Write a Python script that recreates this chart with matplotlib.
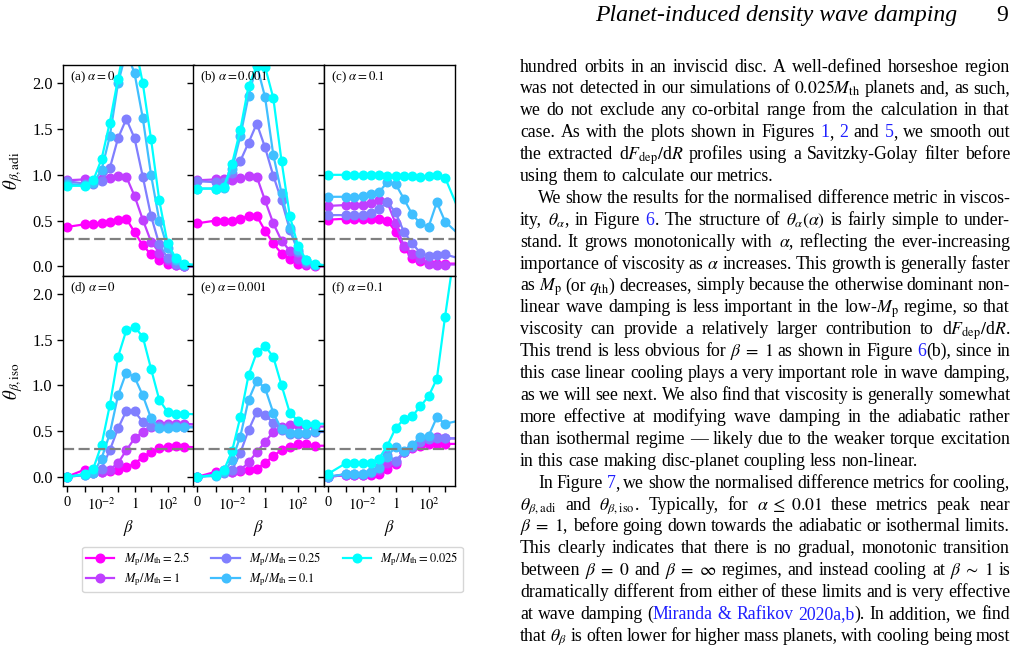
import numpy as np
import matplotlib
matplotlib.use('Agg')
import matplotlib.pyplot as plt
from matplotlib.transforms import IdentityTransform
from matplotlib.ticker import NullLocator

plt.rcParams['font.family'] = 'serif'
plt.rcParams['font.serif'] = ['Liberation Serif', 'DejaVu Serif']
plt.rcParams['mathtext.fontset'] = 'stix'

# ---------------- data ----------------
beta = [0, 0.001, 0.00316, 0.01, 0.0316, 0.1, 0.316, 1, 3.16, 10, 31.6, 100, 316, 1000, 10000]
mass_ratios = [2.5, 1, 0.25, 0.1, 0.025]
mass_labels = ['2.5', '1', '0.25', '0.1', '0.025']

# theta_beta,adi ; series order follows mass_ratios
adi_alpha0 = [
    [0.43, 0.46, 0.46, 0.47, 0.485, 0.51, 0.52, 0.375, 0.23, 0.13, 0.07, 0.03, 0.01, 0.0, 0.0],
    [0.94, 0.95, 0.935, 0.95, 0.96, 0.99, 0.98, 0.77, 0.51, 0.27, 0.15, 0.07, 0.02, 0.0, 0.0],
    [0.93, 0.905, 0.905, 0.93, 1.07, 1.40, 1.61, 1.40, 0.98, 0.55, 0.24, 0.09, 0.03, 0.0, 0.0],
    [0.90, 0.89, 0.91, 1.05, 1.42, 2.00, 2.35, 2.11, 1.62, 1.00, 0.50, 0.20, 0.07, 0.02, 0.0],
    [0.88, 0.88, 0.94, 1.17, 1.57, 2.05, 2.50, 2.45, 2.00, 1.39, 0.72, 0.25, 0.09, 0.03, 0.01],
]
adi_alpha0p001 = [
    [0.47, 0.50, 0.50, 0.50, 0.52, 0.55, 0.55, 0.39, 0.25, 0.14, 0.08, 0.03, 0.01, 0.0, 0.0],
    [0.94, 0.95, 0.95, 0.94, 0.96, 0.985, 0.98, 0.72, 0.47, 0.28, 0.17, 0.08, 0.03, 0.01, 0.0],
    [0.93, 0.92, 0.92, 1.02, 1.15, 1.35, 1.56, 1.30, 0.99, 0.72, 0.40, 0.16, 0.05, 0.01, 0.0],
    [0.85, 0.85, 0.86, 1.06, 1.42, 1.86, 2.20, 1.85, 1.22, 0.80, 0.42, 0.18, 0.07, 0.02, 0.0],
    [0.85, 0.85, 0.87, 1.12, 1.49, 1.97, 2.19, 2.18, 1.84, 1.15, 0.55, 0.22, 0.07, 0.03, 0.0],
]
adi_alpha0p1 = [
    [0.51, 0.52, 0.52, 0.52, 0.52, 0.52, 0.50, 0.38, 0.20, 0.09, 0.06, 0.04, 0.03, 0.03, 0.03],
    [0.66, 0.67, 0.67, 0.675, 0.69, 0.72, 0.70, 0.47, 0.22, 0.14, 0.08, 0.03, 0.02, 0.02, 0.02],
    [0.56, 0.56, 0.56, 0.56, 0.58, 0.63, 0.70, 0.59, 0.38, 0.25, 0.15, 0.11, 0.12, 0.13, 0.08],
    [0.76, 0.76, 0.76, 0.77, 0.79, 0.81, 0.92, 0.90, 0.74, 0.57, 0.47, 0.43, 0.70, 0.49, 0.32],
    [1.00, 1.00, 1.00, 1.00, 1.00, 1.00, 0.99, 0.99, 0.985, 0.985, 0.98, 0.99, 1.00, 0.97, 0.54],
]
# theta_beta,iso
iso_alpha0 = [
    [0.0, 0.08, 0.05, 0.05, 0.06, 0.08, 0.11, 0.14, 0.22, 0.27, 0.31, 0.33, 0.335, 0.33, 0.32],
    [0.0, 0.03, 0.04, 0.05, 0.08, 0.15, 0.29, 0.42, 0.49, 0.55, 0.58, 0.58, 0.58, 0.58, 0.57],
    [0.0, 0.02, 0.04, 0.09, 0.29, 0.53, 0.72, 0.715, 0.60, 0.56, 0.56, 0.56, 0.56, 0.55, 0.55],
    [0.0, 0.02, 0.04, 0.20, 0.47, 0.89, 1.14, 1.09, 0.89, 0.64, 0.53, 0.53, 0.54, 0.54, 0.54],
    [0.0, 0.03, 0.09, 0.35, 0.78, 1.31, 1.60, 1.64, 1.53, 1.18, 0.84, 0.71, 0.69, 0.69, 0.68],
]
iso_alpha0p001 = [
    [0.0, 0.055, 0.08, 0.055, 0.065, 0.07, 0.09, 0.15, 0.23, 0.29, 0.33, 0.36, 0.36, 0.34, 0.34],
    [0.0, 0.03, 0.05, 0.055, 0.07, 0.16, 0.27, 0.38, 0.49, 0.55, 0.565, 0.57, 0.565, 0.55, 0.55],
    [0.0, 0.02, 0.04, 0.07, 0.26, 0.51, 0.71, 0.675, 0.59, 0.51, 0.47, 0.47, 0.47, 0.49, 0.49],
    [0.0, 0.01, 0.05, 0.18, 0.44, 0.84, 1.05, 0.97, 0.70, 0.52, 0.48, 0.48, 0.48, 0.50, 0.50],
    [0.0, 0.02, 0.07, 0.28, 0.65, 1.11, 1.36, 1.43, 1.31, 1.00, 0.70, 0.61, 0.58, 0.58, 0.58],
]
iso_alpha0p1 = [
    [0.0, 0.02, 0.02, 0.02, 0.02, 0.03, 0.09, 0.14, 0.27, 0.31, 0.34, 0.36, 0.36, 0.36, 0.36],
    [0.0, 0.02, 0.02, 0.02, 0.04, 0.07, 0.15, 0.16, 0.27, 0.33, 0.39, 0.42, 0.44, 0.42, 0.42],
    [0.0, 0.03, 0.03, 0.03, 0.055, 0.11, 0.24, 0.175, 0.27, 0.33, 0.38, 0.41, 0.42, 0.42, 0.42],
    [0.0, 0.03, 0.03, 0.03, 0.05, 0.10, 0.22, 0.33, 0.28, 0.35, 0.43, 0.445, 0.65, 0.58, 0.62],
    [0.03, 0.15, 0.15, 0.15, 0.15, 0.20, 0.34, 0.53, 0.63, 0.66, 0.77, 0.88, 1.07, 1.75, 3.0],
]

panel_data = [[adi_alpha0, adi_alpha0p001, adi_alpha0p1],
              [iso_alpha0, iso_alpha0p001, iso_alpha0p1]]
panel_titles = [[r'(a) $\alpha=0$', r'(b) $\alpha=0.001$', r'(c) $\alpha=0.1$'],
                [r'(d) $\alpha=0$', r'(e) $\alpha=0.001$', r'(f) $\alpha=0.1$']]
row_ylabels = [r'$\theta_{\beta,\mathrm{adi}}$', r'$\theta_{\beta,\mathrm{iso}}$']
threshold = 0.3

xtick_vals = [0, 0.001, 0.01, 0.1, 1, 10, 100, 1000]
xtick_labels = ['0', '', r'$10^{-2}$', '', r'$1$', '', r'$10^{2}$', '']
ytick_vals = [0.0, 0.5, 1.0, 1.5, 2.0]
ytick_labels = ['0.0', '0.5', '1.0', '1.5', '2.0']

# ---------------- figure ----------------
W, H = 1012, 646
fig = plt.figure(figsize=(W / 100, H / 100), dpi=100)

def fx(px):
    return px / W

def fy(py):
    return 1 - py / H

colors = plt.cm.cool(np.linspace(1, 0, len(mass_ratios)))
col_left = [63, 193.5, 324]
col_w = 131
row_top = [65, 275.5]
row_h = 210.5

handles = []
for r in range(2):
    for c in range(3):
        ax = fig.add_axes([fx(col_left[c]), fy(row_top[r] + row_h), col_w / W, row_h / H])
        ax.set_xscale('symlog', linthresh=1e-3, linscale=1.0)
        for k, series in enumerate(panel_data[r][c]):
            ln, = ax.plot(beta, series, '-o', color=colors[k], lw=1.6, ms=6.2,
                          label=r'$M_\mathrm{p}/M_\mathrm{th}=%s$' % mass_labels[k])
            if r == 0 and c == 0:
                handles.append(ln)
        ax.axhline(threshold, color='grey', ls=(0, (5, 2)), lw=1.6)
        ax.set_xlim(-2e-4, 4000)
        ax.set_ylim(-0.1, 2.2)
        ax.set_xticks(xtick_vals)
        ax.set_xticklabels(xtick_labels)
        ax.xaxis.set_minor_locator(NullLocator())
        ax.set_yticks(ytick_vals)
        ax.set_yticklabels(ytick_labels)
        ax.tick_params(direction='out', length=4.5, width=1.0, pad=3)
        ax.tick_params(axis='x', labelsize=10.5)
        ax.tick_params(axis='y', labelsize=11.8)
        for sp in ax.spines.values():
            sp.set_linewidth(1.0)
        if r == 0:
            ax.tick_params(axis='x', bottom=False, labelbottom=False)
        else:
            ax.set_xlabel(r'$\beta$', fontsize=12)
            ax.xaxis.set_label_coords(0.5, -0.15)
        if c > 0:
            ax.tick_params(axis='y', labelleft=False)
        ax.text(0.05, 0.978, panel_titles[r][c], transform=ax.transAxes,
                ha='left', va='top', fontsize=9.3)

for r in range(2):
    fig.text(fx(13), fy(row_top[r] + row_h / 2), row_ylabels[r], rotation=90,
             ha='center', va='center', fontsize=13.5)

leg = fig.legend(handles=handles, loc='upper left', bbox_to_anchor=(fx(82.5), fy(546.5)),
                 borderaxespad=0.0, ncol=3, fontsize=9, handlelength=2.25,
                 handletextpad=0.74, columnspacing=1.75, labelspacing=0.3,
                 borderpad=0.3, numpoints=1)

# ---------------- page text ----------------
LINK = '#1f1fff'
header_title = 'Planet-induced density wave damping'
page_number = '9'
body_lines = [
    'hundred orbits in an inviscid disc. A well-defined horseshoe region',
    r'was not detected in our simulations of $0.025M_\mathrm{th}$ planets and, as such,',
    'we do not exclude any co-orbital range from the calculation in that',
    'case. As with the plots shown in Figures #1#, #2# and #5#, we smooth out',
    r'the extracted d$F_\mathrm{dep}/$d$R$ profiles using a Savitzky-Golay filter before',
    'using them to calculate our metrics.',
    'We show the results for the normalised difference metric in viscos-',
    r'ity, $\theta_\alpha$, in Figure #6#. The structure of $\theta_\alpha(\alpha)$ is fairly simple to under-',
    r'stand. It grows monotonically with $\alpha$, reflecting the ever-increasing',
    r'importance of viscosity as $\alpha$ increases. This growth is generally faster',
    r'as $M_\mathrm{p}$ (or $q_\mathrm{th}$) decreases, simply because the otherwise dominant non-',
    r'linear wave damping is less important in the low-$M_\mathrm{p}$ regime, so that',
    r'viscosity can provide a relatively larger contribution to d$F_\mathrm{dep}/$d$R$.',
    r'This trend is less obvious for $\beta\;=\;1$ as shown in Figure #6#(b), since in',
    'this case linear cooling plays a very important role in wave damping,',
    'as we will see next. We also find that viscosity is generally somewhat',
    'more effective at modifying wave damping in the adiabatic rather',
    'than isothermal regime \u2014 likely due to the weaker torque excitation',
    'in this case making disc-planet coupling less non-linear.',
    'In Figure #7#, we show the normalised difference metrics for cooling,',
    r'$\theta_{\beta,\mathrm{adi}}$ and $\theta_{\beta,\mathrm{iso}}$. Typically, for $\alpha\;\leq\;0.01$ these metrics peak near',
    r'$\beta\;=\;1$, before going down towards the adiabatic or isothermal limits.',
    'This clearly indicates that there is no gradual, monotonic transition',
    r'between $\beta\;=\;0$ and $\beta\;=\;\infty$ regimes, and instead cooling at $\beta\;\sim\;1$ is',
    'dramatically different from either of these limits and is very effective',
    'at wave damping (#Miranda & Rafikov 2020a,b#). In addition, we find',
    r'that $\theta_\beta$ is often lower for higher mass planets, with cooling being most',
]
ragged_lines = {5, 18}
indented_lines = {6, 19}

renderer = fig.canvas.get_renderer()
ident = IdentityTransform()


def split_words(s):
    words, cur, buf = [], [], ''
    blue, inmath = False, False
    for ch in s:
        if ch == '#':
            if buf:
                cur.append((buf, blue))
                buf = ''
            blue = not blue
        elif ch == ' ' and not inmath:
            if buf:
                cur.append((buf, blue))
                buf = ''
            if cur:
                words.append(cur)
                cur = []
        else:
            if ch == '$':
                inmath = not inmath
            buf += ch
    if buf:
        cur.append((buf, blue))
    if cur:
        words.append(cur)
    return words


def text_width(s, fs, **kw):
    t = fig.text(0, 0, s, fontsize=fs, transform=ident, **kw)
    w = t.get_window_extent(renderer).width
    t.remove()
    return w


def natural_width(words, fs):
    sp = text_width('x x', fs) - text_width('xx', fs)
    tot = 0
    for wd in words:
        for seg, _ in wd:
            tot += text_width(seg, fs)
    return tot + sp * (len(words) - 1)

# calibrate body font size from a ragged line of known width
fs0 = 11.0
w19 = natural_width(split_words(body_lines[18]), fs0)
body_fs = fs0 * 398.0 / w19

x_left, x_right = 520.0, 1010.0
indent = 18.0
base0, lead = 71.5, 21.9
space_w = text_width('x x', body_fs) - text_width('xx', body_fs)

for i, line in enumerate(body_lines):
    words = split_words(line)
    x0 = x_left + (indent if i in indented_lines else 0)
    ybase = H - (base0 + i * lead)
    items = []
    tot = 0
    for wd in words:
        segs = []
        wsum = 0
        for seg, isblue in wd:
            t = fig.text(0, ybase, seg, fontsize=body_fs, transform=ident,
                         ha='left', va='baseline', color=LINK if isblue else 'black')
            w = t.get_window_extent(renderer).width
            segs.append((t, w))
            wsum += w
        items.append(segs)
        tot += wsum
    if i in ragged_lines or len(words) < 2:
        gap = space_w
    else:
        gap = (x_right - x0 - tot) / (len(words) - 1)
    x = x0
    for segs in items:
        for t, w in segs:
            t.set_position((x, ybase))
            x += w
        x += gap

# header
hfs0 = 14.0
hw = text_width(header_title, hfs0, style='italic')
head_fs = hfs0 * 362.0 / hw
fig.text(595, H - 21, header_title, fontsize=head_fs, style='italic',
         transform=ident, ha='left', va='baseline')
fig.text(1008, H - 21, page_number, fontsize=head_fs, transform=ident,
         ha='right', va='baseline')

fig.savefig('out.png', dpi=100)
